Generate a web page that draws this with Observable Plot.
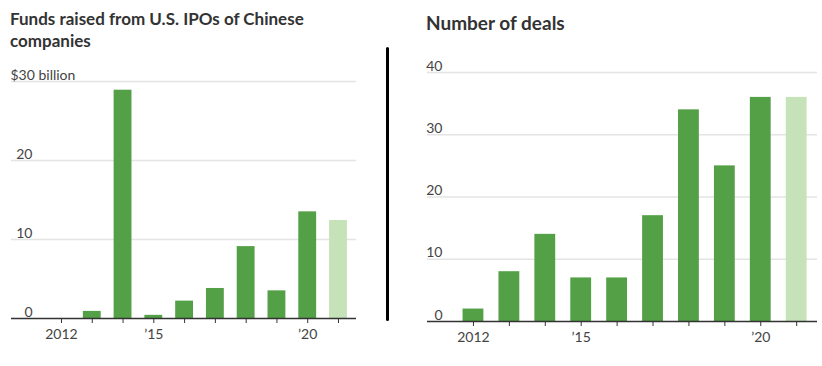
<!DOCTYPE html>
<html><head><meta charset="utf-8">
<script src="https://cdn.jsdelivr.net/npm/d3@7"></script>
<script src="https://cdn.jsdelivr.net/npm/@observablehq/plot@0.6"></script>
<style>
body{margin:0;background:#fff;width:822px;height:366px;position:relative;overflow:hidden;font-family:Lato,"Noto Sans",sans-serif;}
.title{position:absolute;font-weight:700;font-size:17px;line-height:22px;color:#333;}
#t1{left:10px;top:8px;width:340px;}
#t2{left:426px;top:12px;font-size:19px;}
#c1{position:absolute;left:0;top:60px;}
#c2{position:absolute;left:400px;top:50px;}
#divider{position:absolute;left:386px;top:47px;width:3px;height:274px;background:#000;border-radius:1.5px;}
</style></head><body>
<div class="title" id="t1">Funds raised from U.S. IPOs of Chinese companies</div>
<div class="title" id="t2">Number of deals</div>
<div id="divider"></div>
<div id="c1"></div>
<div id="c2"></div>
<script>
// ---- data ----
const years = [2012, 2013, 2014, 2015, 2016, 2017, 2018, 2019, 2020, 2021];
const funds = [0, 0.9, 28.9, 0.4, 2.2, 3.8, 9.1, 3.5, 13.5, 12.4]; // $ billion
const deals = [2, 8, 14, 7, 7, 17, 34, 25, 36, 36];
const partialYear = [false, false, false, false, false, false, false, false, false, true];
const fundsTicks = [0, 10, 20];
const fundsTopTick = 30;
const fundsTopLabel = "$30 billion";
const dealsTicks = [0, 10, 20, 30, 40];
const xLabelYears = [2012, 2015, 2020];
const xLabels = ["2012", "\u201915", "\u201920"];

const DARK = "#54a047";
const LIGHT = "#c6e2b8";
const GRID = "#e4e4e4";
const AXIS = "#333";
const TEXT = "#444";
const FONT = "Lato, 'Noto Sans', sans-serif";

const fundsData = years.map((y, i) => ({year: y, value: funds[i], partial: partialYear[i]}));
const dealsData = years.map((y, i) => ({year: y, value: deals[i], partial: partialYear[i]}));
const xfmt = d => { const k = xLabelYears.indexOf(d); return k >= 0 ? xLabels[k] : ""; };

function chart(data, opts) {
  const marks = [
    Plot.ruleY(opts.grid, {stroke: GRID, strokeWidth: 1.5}),
    Plot.rectY(data, {x1: d => d.year - 0.29, x2: d => d.year + 0.29, y: "value",
      fill: d => d.partial ? LIGHT : DARK}),
    Plot.ruleY([0], {stroke: AXIS, strokeWidth: 1.5}),
    Plot.axisX({ticks: years, tickSize: 5, tickPadding: 6, tickFormat: xfmt,
      stroke: AXIS, fill: TEXT, fontSize: 14}),
    Plot.text(opts.labels, {y: d => d, text: d => String(d), frameAnchor: "left",
      dx: opts.labelDx, dy: -2, textAnchor: "end", lineAnchor: "bottom", fontSize: 14, fill: TEXT})
  ];
  if (opts.topLabel) {
    marks.push(Plot.text([opts.topTick], {y: d => d, text: () => opts.topLabel, frameAnchor: "left",
      dx: -1, dy: -2, textAnchor: "start", lineAnchor: "bottom", fontSize: 14, fill: TEXT}));
  }
  return Plot.plot({
    width: opts.width, height: opts.height,
    marginLeft: opts.ml, marginRight: opts.mr, marginTop: opts.mt, marginBottom: opts.mb,
    style: {fontFamily: FONT, background: "transparent", overflow: "visible"},
    x: {type: "linear", domain: opts.xdomain, axis: null},
    y: {domain: opts.ydomain, axis: null},
    marks
  });
}

document.getElementById("c1").append(chart(fundsData, {
  width: 370, height: 306, ml: 11, mr: 14, mt: 21, mb: 48,
  xdomain: [2010.376, 2021.585], ydomain: [0, 30],
  grid: [10, 20, 30], labels: fundsTicks, labelDx: 21,
  topTick: fundsTopTick, topLabel: fundsTopLabel
}));

document.getElementById("c2").append(chart(dealsData, {
  width: 422, height: 316, ml: 27, mr: 5, mt: 22, mb: 45,
  xdomain: [2010.72, 2021.58], ydomain: [0, 40],
  grid: dealsTicks.slice(1), labels: dealsTicks, labelDx: 15
}));
</script>
</body></html>
